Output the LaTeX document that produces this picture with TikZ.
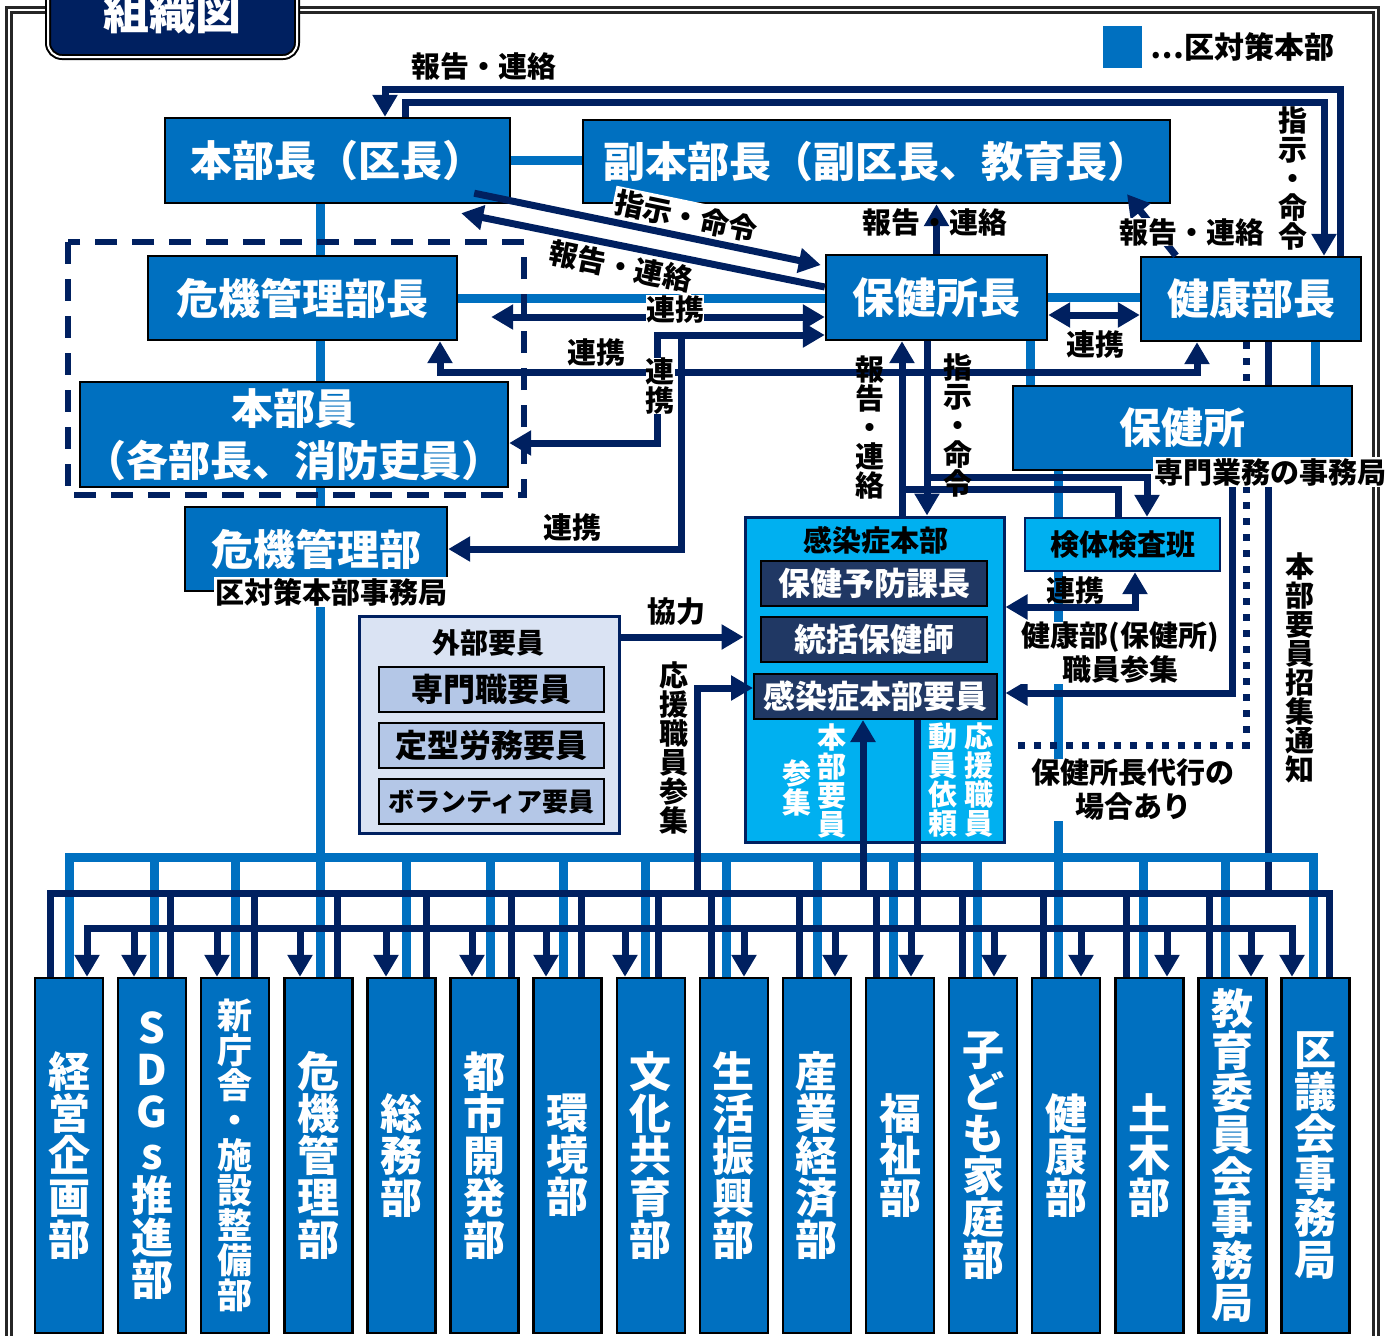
\documentclass[tikz,border=0pt]{standalone}
\usepackage{fontspec}
\setmainfont{Noto Sans CJK JP}
\usetikzlibrary{positioning,arrows.meta,calc}
\definecolor{kublue}{HTML}{0070C0}
\definecolor{kunavy}{HTML}{002060}
\definecolor{kucyan}{HTML}{00B0F0}
\definecolor{kudark}{HTML}{203864}
\definecolor{extfill}{HTML}{DAE3F3}
\definecolor{extsub}{HTML}{B4C7E7}
\pgfdeclarelayer{background}
\pgfsetlayers{background,main}
\newcommand\bigfont{\fontsize{21}{24}\selectfont\bfseries}
\newcommand\midfont{\fontsize{16}{18}\selectfont\bfseries}
\newcommand\lblfont{\fontsize{14.5}{14.5}\selectfont\bfseries}
\tikzset{
  >={Triangle[length=11pt,width=12pt]},
  navy/.style={draw=kunavy, line width=3.5pt},
  blueline/.style={draw=kublue, line width=4.5pt},
}

\begin{document}
\begin{tikzpicture}[
  x=0.5pt, y=-0.5pt,
  sz/.style 2 args={minimum width=#1*0.5pt, minimum height=#2*0.5pt},
  box/.style={draw=black, line width=1.2pt, fill=kublue, text=white, inner sep=0pt, font=\bigfont},
  inner/.style={draw=black, line width=1pt, fill=kudark, text=white, inner sep=0pt, font=\midfont},
  extbox/.style={draw=black, line width=1pt, fill=extsub, inner sep=0pt, font=\midfont},
  dept/.style={box, sz={68}{355}, align=center},
  lbl/.style={font=\lblfont, inner sep=1pt, align=center},
  wlbl/.style={lbl, fill=white},
  dotline/.style={navy, dash pattern=on 3.5pt off 4.5pt},
]
\useasboundingbox (0,0) rectangle (1393,1335);

% frame, title, legend
\begin{pgfonlayer}{background}
\draw[black!85, line width=1.1pt, double=white, double distance=1.4pt] (9,10) rectangle (1376,1350);
\end{pgfonlayer}
\node[fill=kunavy, draw=black, line width=1pt, double=white, double distance=1pt, rounded corners=7pt,
  sz={249}{90}, text=white, font=\fontsize{23}{23}\selectfont\bfseries] (title) at (172.5,12) {組織図};
\node[fill=kublue, sz={39}{42}, inner sep=0pt] (legend) at (1122.5,47) {};
\node[right=4pt of legend, inner sep=0pt, font=\fontsize{15}{15}\selectfont\bfseries] (legendtxt) {…区対策本部};

% head office
\node[box, sz={345}{85}] (hq) at (337.5,160.5) {本部長（区長）};
\node[box, sz={587}{83}] (dephq) at (876.5,161.5) {副本部長（副区長、教育長）};
\node[box, sz={309}{84}] (crisischief) at (302.5,298) {危機管理部長};
\node[box, sz={428}{105}, align=center, font=\fontsize{21}{26}\selectfont\bfseries] (members) at (294,434.5) {本部員\\（各部長、消防吏員）};
\node[box, sz={262}{84}] (crisisdept) at (316,549) {危機管理部};
\node[box, sz={221}{85}] (hcchief) at (936.5,297.5) {保健所長};
\node[box, sz={220}{84}] (healthchief) at (1251,299) {健康部長};
\node[box, sz={339}{84}] (hc) at (1182.5,428) {保健所};
\node[box, fill=kucyan, text=black, draw=kunavy, sz={195}{53}, font=\lblfont] (lab) at (1122.5,544.5) {検体検査班};

% infection hq
\node[box, fill=kucyan, draw=kunavy, line width=1.5pt, sz={259}{325}] (ich) at (874.5,679.5) {};
\node[font=\lblfont, inner sep=0pt] (ichtitle) at (876,540) {感染症本部};
\node[inner, sz={226}{45}] (prev) at (874,583.5) {保健予防課長};
\node[inner, sz={226}{45}, below=4.5pt of prev] (nurse) {統括保健師};
\node[inner, sz={243}{45}, below=5pt of nurse, xshift=0.75pt] (staff) {感染症本部要員};

% outside staff
\node[box, fill=extfill, draw=kunavy, line width=1.5pt, sz={260}{217}] (ext) at (489,724.5) {};
\node[font=\fontsize{14}{14}\selectfont\bfseries] (exttitle) at (488,643) {外部要員};
\node[extbox, sz={225}{45}] (ext1) at (491.5,689.5) {専門職要員};
\node[extbox, sz={225}{45}, below=4.5pt of ext1] (ext2) {定型労務要員};
\node[extbox, sz={225}{45}, below=4.5pt of ext2, font=\fontsize{13}{13}\selectfont\bfseries] (ext3) {ボランティア要員};

% departments
\coordinate (bbus) at (0,857);
\coordinate (ubus) at (0,893);
\coordinate (lbus) at (0,928);
\foreach \i/\bl/\nv/\ar/\fs/\nm in {
  1/69/50/87/21/{経\\営\\企\\画\\部},
  2/154/170/134/21/{S\\D\\G\\s\\推\\進\\部},
  3/235/254/217/17.5/{新\\庁\\舎\\・\\施\\設\\整\\備\\部},
  4/320/337/300/21/{危\\機\\管\\理\\部},
  5/406/426/386/21/{総\\務\\部},
  6/490/511/472/21/{都\\市\\開\\発\\部},
  7/563/581/546/21/{環\\境\\部},
  8/645/658/625/21/{文\\化\\共\\育\\部},
  9/726/711/744/21/{生\\活\\振\\興\\部},
  10/817/799/835/21/{産\\業\\経\\済\\部},
  11/893/876/911/21/{福\\祉\\部},
  12/977/962/994/21/{子\\ど\\も\\家\\庭\\部},
  13/1058/1043/1081/21/{健\\康\\部},
  14/1143/1126/1167/21/{土\\木\\部},
  15/1225/1209/1251/21/{教\\育\\委\\員\\会\\事\\務\\局},
  16/1313/1329/1292/21/{区\\議\\会\\事\\務\\局}} {
  \node[dept, font=\fontsize{\fs}{\fs}\selectfont\bfseries] (dept\i) at (\i*83.1-14.1,1155.5) {\nm};
  \coordinate (nv\i) at (\nv,893);
  \coordinate (ar\i) at (\ar,928);
  \draw[blueline] (bbus -| \bl,0) -- (dept\i.north -| \bl,0);
}

% lines behind the boxes
\begin{pgfonlayer}{background}
\draw[blueline] (hq.south -| 320,0) -- (bbus -| 320,0);
\draw[blueline] (hc.south -| 1058,0) -- (bbus -| 1058,0);
\draw[navy] (healthchief.south -| 1268,0) -- (ubus -| 1268,0);
\coordinate (dotend) at (1017,745);
\draw[dotline] (healthchief.south -| 1246,0) |- (dotend);
\end{pgfonlayer}

% blue links
\draw[blueline] (hq.east) -- (hq.east -| dephq.west);
\draw[blueline] (crisischief.east) -- (crisischief.east -| hcchief.west);
\draw[blueline] (hcchief.east) -- (hcchief.east -| healthchief.west);
\draw[blueline] (hcchief.south -| 1030,0) -- (hc.north -| 1030,0);
\draw[blueline] (healthchief.south -| 1315,0) -- (hc.north -| 1315,0);
\draw[blueline] (dept1.north -| 69,0) |- (bbus -| 1313,0) -- (dept16.north -| 1313,0);

% navy links
\draw[navy,->] (healthchief.north -| 1340,0) -- (1340,89) -| (hq.north -| 385,0);
\draw[navy,->] (hq.north -| 405,0) |- (1324,102) -- (healthchief.north -| 1324,0);
\draw[navy,->] ($(hq.south east)+(-37,-11)$) -- node[wlbl, sloped, pos=0.6, above=0.5pt] (lcmd2) {指示・命令} ($(hcchief.west)+(-4,-32.5)$);
\draw[navy,->] ($(hcchief.west)+(0,-10.5)$) -- node[wlbl, sloped, pos=0.55, below=0.5pt] (lrep2) {報告・連絡} ($(hq.south east)+(-50,9)$);
\draw[navy,<->] ($(crisischief.east)+(33,19)$) -- ($(hcchief.west)+(0,19.5)$);
\coordinate (lnk) at (657,335);
\draw[navy,<->] ($(members.east)+(0,8.5)$) -| (lnk) -- (hcchief.west |- lnk);
\draw[navy,->] (lnk -| 681,0) |- (crisisdept.east);
\draw[navy,<->] (crisischief.south -| 440,0) -- (440,372) -| (healthchief.south -| 1197,0);
\draw[navy,<->] ($(hcchief.east)+(0,17.5)$) -- ($(healthchief.west)+(0,16)$);
\draw[navy,->] (hcchief.north) -- (dephq.south -| hcchief.north);
\draw[navy,->] (healthchief.north -| 1176,0) -- ($(dephq.south)+(250.5,-10)$);
\draw[navy,->] (hcchief.south -| 927,0) -- (ich.north -| 927,0);
\draw[navy,->] (ich.north -| 902,0) -- (hcchief.south -| 902,0);
\coordinate (cmdj) at (927,477);
\coordinate (repj) at (902,489);
\draw[navy,->] (cmdj) -| (lab.north -| 1147,0);
\draw[navy] (lab.north -| 1118,0) |- (repj);
\draw[navy,<->] (lab.south -| 1135,0) |- (ich.east |- 0,607);
\draw[navy,->] (hc.south -| 1232,0) |- (ich.east |- 0,693);
\draw[navy,->] (ext.east |- 0,637) -- (ich.west |- 0,637);

% buses to the departments
\draw[navy] (dept1.north -| nv1) |- (nv16) -- (dept16.north -| nv16);
\draw[navy,<->] (dept1.north -| ar1) |- (ar16) -- (dept16.north -| ar16);
\foreach \i in {2,...,15} {
  \draw[navy] (nv\i) -- (dept\i.north -| nv\i);
  \draw[navy,->] (ar\i) -- (dept\i.north -| ar\i);
}
\draw[navy] (staff.south -| 917,0) -- (lbus -| 917,0);
\draw[navy,->] (ubus -| 863,0) -- (staff.south -| 863,0);
\draw[navy,->] (ubus -| 697,0) |- (staff.west |- 0,688);

% dashed group
\draw[kunavy, line width=3pt, dash pattern=on 11pt off 7.5pt] (68,242) rectangle (524,495);

% labels
\node[lbl] (lrep1) at (484,66) {報告・連絡};
\node[lbl] (lcmd1) at (1293,178) {指\\示\\・\\命\\令};
\node[lbl] (lrep3) at (935,222) {報告・連絡};
\node[wlbl, inner sep=0pt] (lrep4) at (1192,232) {報告・連絡};
\node[wlbl, inner sep=0pt] (lco1) at (675,309) {連携};
\node[lbl] (lco2) at (596,352) {連携};
\node[wlbl, inner sep=0pt] (lco3) at (660,386) {連\\携};
\node[lbl] (lco4) at (572,527) {連携};
\node[lbl] (lco5) at (1095,344) {連携};
\node[lbl] (lrep5) at (870,428) {報\\告\\・\\連\\絡};
\node[lbl] (lcmd3) at (958,425) {指\\示\\・\\命\\令};
\node[lbl] (lcoop) at (676,612) {協力};
\node[lbl] (lsup) at (674,748) {応\\援\\職\\員\\参\\集};
\node[lbl] (lco6) at (1075,590) {連携};
\node[wlbl, inner sep=0pt, font=\fontsize{14.5}{17}\selectfont\bfseries] (lhc) at (1120,653) {健康部(保健所)\\職員参集};
\node[wlbl, inner sep=0pt, font=\fontsize{14.5}{17}\selectfont\bfseries] (lproxy) at (1133,790) {保健所長代行の\\場合あり};
\node[lbl] (lcall) at (1300,668) {本\\部\\要\\員\\招\\集\\通\\知};
\node[lbl, text=white] (lmem1) at (832,781) {本\\部\\要\\員};
\node[lbl, text=white] (lmem2) at (797,788) {参\\集};
\node[lbl, text=white] (lreq1) at (979,780) {応\\援\\職\\員};
\node[lbl, text=white] (lreq2) at (943,780) {動\\員\\依\\頼};
\node[wlbl, inner sep=0.5pt] (lsec1) at (331,592) {区対策本部事務局};
\node[wlbl, inner sep=0.5pt] (lsec2) at (1270,472) {専門業務の事務局};
\end{tikzpicture}
\end{document}
